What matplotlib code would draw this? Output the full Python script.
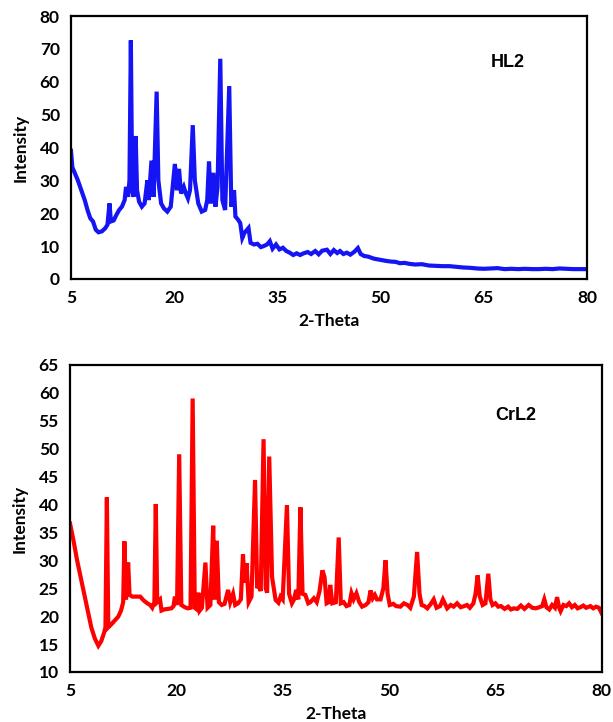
import matplotlib.pyplot as plt
import numpy as np

# XRD pattern of the free ligand HL2
hl2_theta = [5.0, 5.2, 5.6, 6.0, 6.5, 7.0, 7.4, 7.8, 8.2, 8.6, 9.0, 9.5, 10.0, 10.3, 10.6, 10.8,
             11.2, 11.6, 12.0, 12.4, 12.8, 13.0, 13.3, 13.5, 13.7, 13.9, 14.1, 14.4, 14.6, 14.9,
             15.3, 15.7, 16.1, 16.3, 16.7, 17.0, 17.45, 17.7, 18.1, 18.5, 19.0, 19.5, 20.1, 20.4,
             20.7, 21.0, 21.4, 21.7, 22.0, 22.3, 22.7, 23.0, 23.5, 24.0, 24.5, 24.8, 25.06, 25.3,
             25.7, 26.0, 26.3, 26.7, 27.0, 27.4, 28.0, 28.3, 28.7, 28.9, 29.3, 29.6, 29.9, 30.2,
             30.8, 31.1, 31.6, 32.1, 32.6, 33.0, 33.5, 33.9, 34.3, 34.8, 35.3, 35.8, 36.3, 36.8,
             37.3, 37.8, 38.3, 38.8, 39.4, 39.9, 40.5, 41.0, 41.5, 42.2, 42.7, 43.2, 43.7, 44.1,
             44.6, 45.1, 45.6, 46.2, 46.7, 47.1, 47.6, 48.2, 49.0, 50.0, 50.8, 51.5, 52.2, 52.8,
             53.5, 54.2, 55.0, 56.0, 57.0, 58.0, 59.0, 60.0, 61.0, 62.0, 63.0, 64.0, 65.0, 66.0,
             67.0, 68.0, 69.0, 70.0, 71.0, 72.0, 73.0, 74.0, 75.0, 76.0, 77.0, 78.0, 79.0, 80.0]
hl2_int = [39, 34, 32, 30, 27, 24, 21, 18.5, 17.5, 15, 14.2, 14.5, 15.5, 16.5, 23, 17.5,
           17.8, 19.5, 21, 22, 24, 28, 25, 30, 72.6, 27, 25, 43.5, 27, 23.5,
           22, 23, 30, 24, 36, 25, 57, 30, 23, 21.5, 20.5, 22, 35, 27,
           33.5, 26, 28, 26, 24.5, 27, 46.8, 30, 23, 20.5, 21, 24, 35.7, 23,
           32.3, 22, 28, 67, 24, 21, 58.7, 22, 27, 19, 18, 17, 12.5, 14,
           15.5, 11, 10.5, 10.7, 9.7, 10, 10.5, 11.5, 9.2, 10.5, 9, 9.5, 8.5, 8,
           7.3, 7.8, 7.3, 7.8, 8.2, 7.6, 8.5, 7.5, 8.6, 8.9, 7.6, 8.8, 7.9, 8.5,
           7.6, 8, 7.4, 8.3, 9.4, 7.6, 7, 6.8, 6.2, 5.8, 5.5, 5.3, 5.2, 4.8,
           4.9, 4.6, 4.4, 4.5, 4.1, 4.0, 3.9, 3.9, 3.7, 3.5, 3.4, 3.2, 3.1, 3.2,
           3.3, 3.0, 3.1, 3.0, 3.1, 3.0, 3.0, 3.1, 3.0, 3.2, 3.1, 3.0, 3.0, 3.0]

# XRD pattern of the Cr(III) complex
crl2_theta = [5.0, 5.5, 6.0, 6.5, 7.0, 7.5, 8.0, 8.5, 9.0, 9.4, 9.8, 10.0, 10.2, 10.4, 10.8,
              11.3, 11.8, 12.2, 12.5, 12.67, 12.9, 13.2, 13.4, 13.8, 14.4, 14.9, 15.4, 15.9,
              16.3, 16.6, 16.9, 17.1, 17.3, 17.7, 17.9, 18.3, 18.8, 19.3, 19.6, 19.8, 20.1,
              20.4, 20.7, 21.2, 21.6, 22.0, 22.3, 22.6, 22.9, 23.1, 23.3, 23.6, 24.1, 24.4,
              24.8, 25.2, 25.4, 25.7, 26.0, 26.4, 26.8, 27.3, 27.6, 28.0, 28.3, 28.7, 29.1,
              29.4, 29.6, 29.9, 30.2, 30.6, 31.1, 31.4, 31.6, 31.9, 32.3, 32.6, 32.8, 33.1,
              33.5, 34.0, 34.4, 34.7, 35.0, 35.6, 35.9, 36.3, 36.6, 36.9, 37.2, 37.5, 37.8,
              38.2, 38.6, 38.9, 39.4, 39.8, 40.2, 40.6, 40.9, 41.2, 41.5, 41.7, 42.0, 42.5,
              42.9, 43.2, 43.6, 44.0, 44.4, 44.7, 45.0, 45.4, 45.8, 46.2, 46.7, 47.1, 47.4,
              47.7, 48.0, 48.3, 48.8, 49.2, 49.5, 49.8, 50.1, 50.6, 51.0, 51.6, 52.1, 52.6,
              53.0, 53.5, 53.96, 54.3, 54.6, 55.0, 55.4, 55.9, 56.3, 56.7, 57.2, 57.6, 57.9,
              58.2, 58.7, 59.1, 59.6, 60.1, 60.6, 61.0, 61.4, 61.9, 62.2, 62.5, 62.8, 63.2,
              63.6, 64.0, 64.3, 64.6, 65.0, 65.4, 65.8, 66.3, 66.8, 67.2, 67.6, 68.1, 68.6,
              69.1, 69.7, 70.2, 70.7, 71.2, 71.6, 71.9, 72.2, 72.6, 73.0, 73.4, 73.7, 74.0,
              74.2, 74.6, 75.0, 75.4, 75.8, 76.2, 76.6, 77.0, 77.4, 77.8, 78.4, 78.8, 79.2,
              79.6, 80.0]
crl2_int = [36.6, 33.5, 30, 27, 24, 21, 18, 16, 14.7, 15.5, 17, 18, 41.3, 18, 18.5,
            19.2, 19.9, 21, 22.5, 33.4, 23, 29.6, 23.8, 23.5, 23.5, 23.5, 22.8, 22.3,
            22, 21.5, 22.5, 40.1, 22.5, 23, 21, 21.2, 21.3, 21.4, 21.8, 23.5, 22,
            49, 22, 21.6, 21.4, 21.5, 59, 21.5, 21.2, 24.2, 21, 21.5, 29.6, 21.5,
            22, 36.2, 23, 33.5, 22.5, 22, 22.2, 24.7, 22.5, 24, 22, 22.3, 23,
            31.1, 26, 29.5, 22.5, 23.5, 44.4, 25, 25.6, 24.5, 51.7, 25, 24.2, 48.6,
            27, 22.9, 22.4, 23.5, 23, 39.9, 24, 22.3, 23, 24.7, 23, 39.5, 24,
            23.8, 22.3, 22.5, 23.2, 22.5, 24.5, 28.2, 27, 22.3, 22.5, 25.6, 22.3, 22.5,
            34.1, 22.3, 22.5, 21.8, 22, 24.1, 23, 24.1, 22.5, 21.7, 22, 22.5, 24.6,
            23.2, 23.8, 23, 23, 25, 30, 24, 22, 22.2, 21.8, 21.7, 22.3, 22,
            21.5, 23.5, 31.5, 24, 22, 21.8, 21.4, 22.2, 23, 21.5, 21.8, 23, 22.2,
            21.4, 22, 21.7, 22.3, 21.6, 21.8, 22, 21.5, 22.3, 24, 27.3, 23.5, 22,
            22.3, 27.6, 23, 22, 22.3, 21.7, 21.8, 21.3, 21.7, 21.2, 21.4, 21.3, 21.9,
            21.3, 22, 21.5, 21.4, 21.6, 21.8, 23, 21.6, 21.2, 22, 21.5, 23.4, 21.5,
            20.9, 22, 21.8, 22.3, 21.6, 22, 21.4, 21.6, 21.9, 21.5, 21.8, 21.4, 21.7,
            21.5, 20.5]

x_ticks = [5, 20, 35, 50, 65, 80]

fig = plt.figure(figsize=(6.13, 7.22), dpi=100)
tick_font = {'family': 'Lato', 'weight': 'bold', 'size': 12.5}

def style_axes(ax, yticks):
    ax.set_xlim(5, 80)
    ax.set_xticks(x_ticks)
    ax.set_yticks(yticks)
    ax.set_ylim(yticks[0], yticks[-1])
    ax.set_xticklabels([str(t) for t in x_ticks], fontdict=tick_font)
    ax.set_yticklabels([str(t) for t in yticks], fontdict=tick_font)
    ax.tick_params(length=0, pad=8)
    for s in ax.spines.values():
        s.set_linewidth(1.6)
    ax.set_xlabel("2-Theta", fontsize=12.5, fontweight='bold', family='Lato', labelpad=5)
    ax.set_ylabel("Intensity", fontsize=12.5, fontweight='bold', family='Lato', labelpad=8)

# top panel - ligand
ax1 = fig.add_axes([0.1158, 0.6136, 0.8418, 0.3642])
ax1.plot(hl2_theta, hl2_int, color='#1414f5', lw=3, solid_joinstyle='miter')
style_axes(ax1, list(range(0, 81, 10)))
ax1.text(0.847, 0.825, "HL2", transform=ax1.transAxes, ha='center', va='center',
         fontsize=13, fontweight='bold', family='Liberation Sans')

# bottom panel - complex
ax2 = fig.add_axes([0.1142, 0.0693, 0.8674, 0.4252])
ax2.plot(crl2_theta, crl2_int, color='#ff0000', lw=3, solid_joinstyle='miter')
style_axes(ax2, list(range(10, 66, 5)))
ax2.text(0.839, 0.837, "CrL2", transform=ax2.transAxes, ha='center', va='center',
         fontsize=13, fontweight='bold', family='Liberation Sans')

fig.savefig("out.png", dpi=100)
